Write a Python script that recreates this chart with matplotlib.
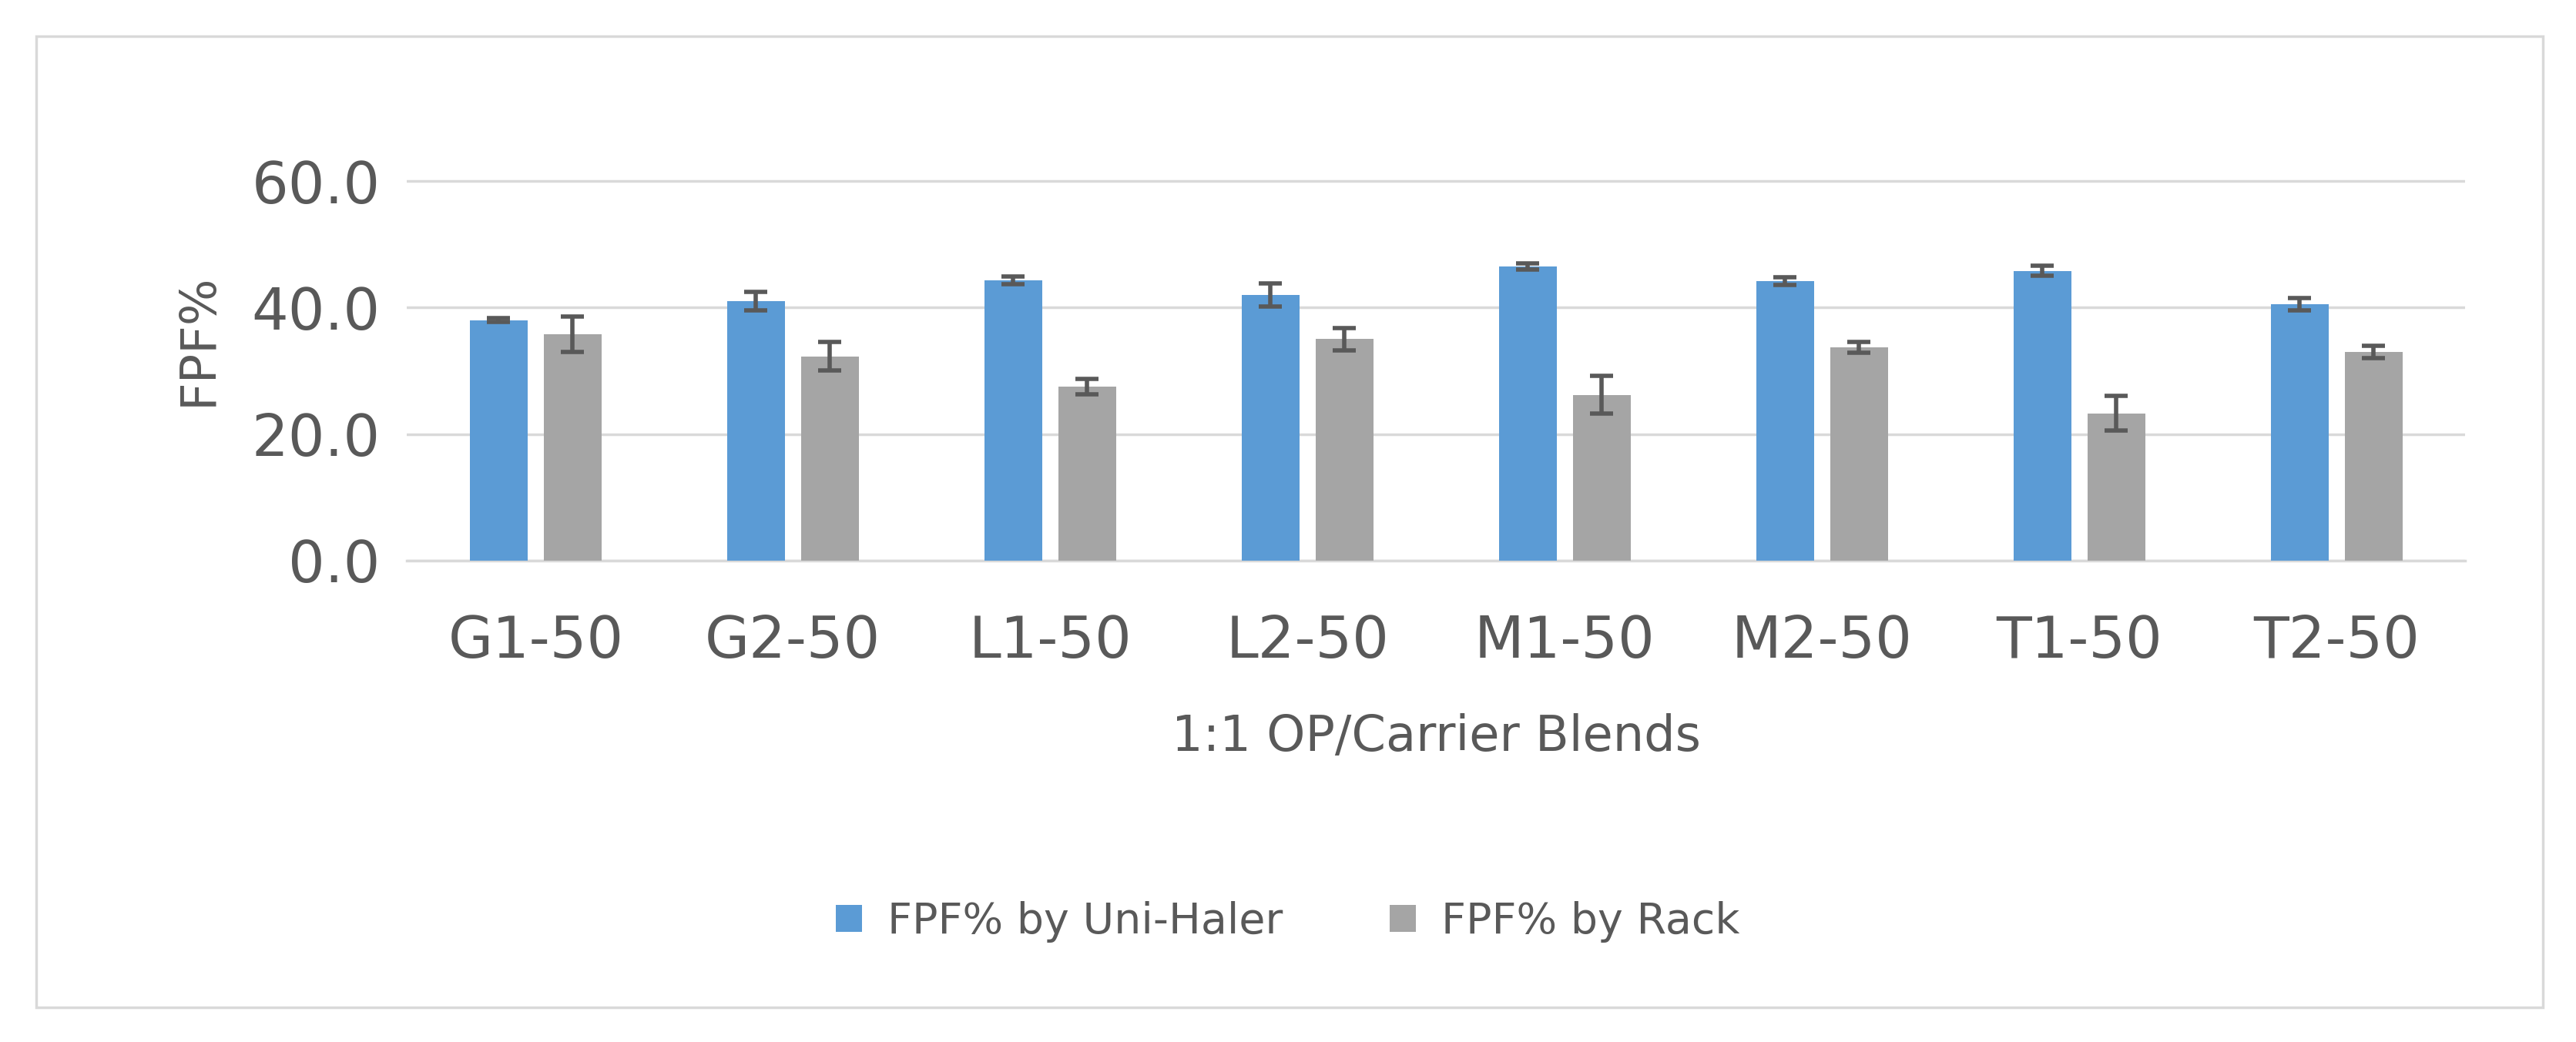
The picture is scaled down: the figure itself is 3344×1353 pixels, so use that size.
import matplotlib
matplotlib.use("Agg")
import matplotlib.pyplot as plt
import numpy as np
from matplotlib.patches import Rectangle

categories = ["G1-50", "G2-50", "L1-50", "L2-50", "M1-50", "M2-50", "T1-50", "T2-50"]
uni = [38.0, 41.0, 44.3, 42.0, 46.5, 44.2, 45.8, 40.5]
uni_err = [0.3, 1.5, 0.6, 1.8, 0.5, 0.6, 0.8, 1.0]
rack = [35.8, 32.3, 27.5, 35.0, 26.2, 33.7, 23.3, 33.0]
rack_err = [2.8, 2.3, 1.2, 1.8, 3.0, 0.9, 2.7, 1.0]

fig = plt.figure(figsize=(33.44, 13.53), dpi=100)
fig.patches.append(Rectangle((0.014, 0.033), 0.973, 0.932, transform=fig.transFigure,
                             fill=False, edgecolor="#d9d9d9", linewidth=2.5))
ax = fig.add_axes([0.158, 0.462, 0.799, 0.425])
x = np.arange(len(categories))
w = 0.224
ek = dict(ecolor="#595959", elinewidth=4, capsize=11, capthick=4)
ax.bar(x - 0.144, uni, w, yerr=uni_err, color="#5b9bd5", label="FPF% by Uni-Haler", error_kw=ek, zorder=3)
ax.bar(x + 0.144, rack, w, yerr=rack_err, color="#a5a5a5", label="FPF% by Rack", error_kw=ek, zorder=3)
ax.set_xlim(-0.5, len(categories) - 0.5)
ax.set_ylim(0, 70)
ax.set_yticks([0, 20, 40, 60])
ax.set_yticklabels(["0.0", "20.0", "40.0", "60.0"])
ax.set_xticks(x)
ax.set_xticklabels(categories)
ax.grid(axis="y", color="#d9d9d9", linewidth=2.5, zorder=0)
for s in ["top", "right", "left"]:
    ax.spines[s].set_visible(False)
ax.spines["bottom"].set_color("#d9d9d9")
ax.spines["bottom"].set_linewidth(2.5)
ax.tick_params(axis="y", length=0, labelsize=54, colors="#595959", pad=25)
ax.tick_params(axis="x", length=0, labelsize=54, colors="#595959", pad=50)
ax.set_ylabel("FPF%", fontsize=46, color="#595959", labelpad=28)
ax.set_xlabel("1:1 OP/Carrier Blends", fontsize=46, color="#595959", labelpad=40)
fig.legend(loc="center", bbox_to_anchor=(0.5, 0.115), ncol=2, frameon=False,
           fontsize=40, labelcolor="#595959", handlelength=0.6, handleheight=0.6,
           handletextpad=0.6, columnspacing=2.5)
fig.savefig("out.png", dpi=100)
